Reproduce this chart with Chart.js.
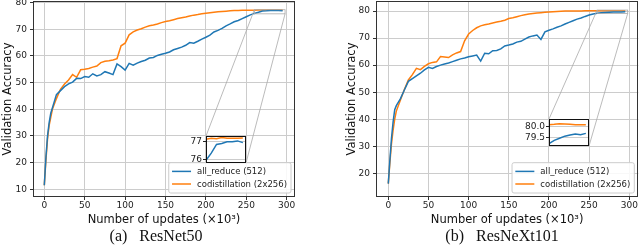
<!DOCTYPE html>
<html>
<head>
<meta charset="utf-8">
<script src="https://cdn.jsdelivr.net/npm/chart.js@4.4.0/dist/chart.umd.min.js"></script>
<style>
  body { margin: 0; background: #fff; width: 640px; height: 248px; position: relative; overflow: hidden; }
  canvas { position: absolute; }
  .cap { position: absolute; top: 227px; font: 16px/18px "Liberation Serif", serif; color: #111; white-space: nowrap; transform: translateX(-50%); }
  .cap span { margin-left: 12px; }
</style>
</head>
<body>
<canvas id="mainA" width="320" height="248" style="left:0;top:0"></canvas>
<canvas id="mainB" width="320" height="248" style="left:320px;top:0"></canvas>
<canvas id="insetA"></canvas>
<canvas id="insetB"></canvas>
<div class="cap" style="left:156px">(a)<span>ResNet50</span></div>
<div class="cap" style="left:502px">(b)<span>ResNeXt101</span></div>
<script>
// updates, in thousands
const updates = [
  0, 2, 4, 6, 8, 10, 15, 20, 25, 30,
  35, 40, 45, 50, 55, 60, 65, 70, 75, 80,
  85, 90, 95, 100, 105, 110, 115, 120, 125, 130,
  135, 140, 145, 150, 155, 160, 165, 170, 175, 180,
  185, 190, 195, 200, 205, 210, 215, 220, 225, 230,
  235, 240, 245, 250, 255, 260, 265, 270, 275, 280,
  285, 290, 295
];

// ResNet50
const r50AllReduce = [
  11.5, 22, 30, 35, 38.5, 40.5, 45.5, 47, 48.5, 49.5,
  50.2, 51.6, 51.5, 52.3, 52, 53.3, 52.5, 53, 54.1, 53.6,
  53, 57, 56, 54.7, 57.2, 56.5, 57.3, 57.9, 58.4, 59.2,
  59.4, 60.2, 60.6, 61, 61.5, 62.3, 62.8, 63.3, 64, 65,
  64.8, 65.5, 66.3, 67, 67.8, 69, 69.6, 70.3, 71.3, 72,
  72.8, 73.3, 74, 74.7, 75.4, 75.95, 76.35, 76.85, 76.9, 77.0,
  77.0, 77.05, 76.95
];
const r50Codist = [
  11.5, 21, 29, 34, 37, 40, 44, 47.5, 49.5, 51,
  53, 52, 54.8, 55, 55.3, 55.8, 56.2, 57.5, 58, 58.2,
  58.5, 59, 63.8, 64.8, 67.9, 69, 69.7, 70.2, 70.8, 71.3,
  71.6, 72, 72.5, 72.9, 73.2, 73.6, 74, 74.3, 74.6, 75,
  75.3, 75.5, 75.8, 76, 76.2, 76.4, 76.6, 76.7, 76.8, 76.9,
  77, 77.05, 77.1, 77.1, 77.12, 77.15, 77.2, 77.18, 77.25, 77.2,
  77.2, 77.2, 77.22
];

// ResNeXt101
const rx101AllReduce = [
  16.2, 25, 33, 39, 43.5, 45, 47.5, 50.8, 54, 55,
  56, 57, 58.2, 59.2, 58.8, 59.5, 60, 60.4, 60.8, 61.3,
  61.8, 62.3, 62.6, 63.1, 63.4, 63.7, 61.5, 64.4, 64.2, 65.3,
  65.4, 66, 67.1, 67.4, 67.8, 68.5, 68.8, 69.6, 70.4, 70.8,
  71.1, 69.5, 72.3, 72.9, 73.4, 74, 74.5, 75.2, 75.8, 76.4,
  77, 77.4, 78, 78.5, 78.9, 79.2, 79.35, 79.45, 79.55, 79.6,
  79.65, 79.62, 79.68
];
const rx101Codist = [
  16.2, 24, 31, 36, 40, 43, 47, 51, 54.5, 56.5,
  58.8, 58.3, 59.5, 60.5, 61, 61.2, 63.2, 63, 62.8, 63.8,
  64.5, 65, 69, 71.5, 72.8, 73.8, 74.5, 74.9, 75.2, 75.6,
  75.9, 76.2, 76.6, 77.2, 77.5, 77.9, 78.3, 78.6, 78.9, 79.1,
  79.3, 79.4, 79.5, 79.6, 79.7, 79.8, 79.9, 80, 80, 80.02,
  80.03, 80.04, 80.05, 80.05, 80.06, 80.08, 80.1, 80.13, 80.12, 80.1,
  80.08, 80.08, 80.08
];

const seriesLabels = ['all_reduce (512)', 'codistillation (2x256)'];
const seriesColors = ['#1f77b4', '#ff7f0e'];
const xTicks = [0, 50, 100, 150, 200, 250, 300];
const yTicksA = [10, 20, 30, 40, 50, 60, 70, 80];
const yTicksB = [20, 30, 40, 50, 60, 70, 80];
const insetTicksA = [76, 77];
const insetTicksB = [79.5, 80.0];

const FONT = '"DejaVu Sans", sans-serif';

const pts = ys => updates.map((x, i) => ({ x: x, y: ys[i] }));

function insetBox(chart, place) {
  const sx = chart.scales.x, sy = chart.scales.y;
  return {
    L: Math.round(sx.getPixelForValue(place[0])),
    R: Math.round(sx.getPixelForValue(place[1])),
    T: Math.round(sy.getPixelForValue(place[3])),
    B: Math.round(sy.getPixelForValue(place[2]))
  };
}

// frame, zoom rectangle + connector lines
const decor = {
  id: 'decor',
  afterDatasetsDraw(chart, args, o) {
    const { ctx, chartArea: a } = chart;
    const sx = chart.scales.x, sy = chart.scales.y;
    ctx.save();
    if (o.place) {
      const b = insetBox(chart, o.place);
      const x1 = sx.getPixelForValue(o.view[0]), x2 = sx.getPixelForValue(o.view[1]);
      const y1 = sy.getPixelForValue(o.view[2]), y2 = sy.getPixelForValue(o.view[3]);
      ctx.strokeStyle = '#a9a9a9';
      ctx.lineWidth = 0.8;
      ctx.strokeRect(x1, y2, x2 - x1, y1 - y2);
      ctx.beginPath();
      ctx.moveTo(x1, y2); ctx.lineTo(b.L, b.T);
      ctx.moveTo(x2, y1); ctx.lineTo(b.R, b.B);
      ctx.stroke();
    }
    ctx.strokeStyle = o.frame || '#333';
    ctx.lineWidth = 1;
    ctx.strokeRect(Math.round(a.left) + 0.5, Math.round(a.top) + 0.5, Math.round(a.width) - 1, Math.round(a.height) - 1);
    ctx.restore();
  }
};

// legend in lower right corner of the plot
const cornerLegend = {
  id: 'cornerLegend',
  afterDraw(chart, args, o) {
    if (!o.show) return;
    const { ctx, chartArea: a } = chart;
    const sets = chart.data.datasets;
    ctx.save();
    ctx.font = '8.5px ' + FONT;
    const tw = Math.max(...sets.map(d => ctx.measureText(d.label).width));
    const w = 3.3 + 19 + 6 + tw + 4, h = 30.3;
    const x0 = a.right - 4 - w, y0 = a.bottom - 4 - h;
    ctx.fillStyle = 'rgba(255,255,255,0.85)';
    ctx.strokeStyle = '#cccccc';
    ctx.lineWidth = 1;
    ctx.beginPath();
    ctx.roundRect(x0, y0, w, h, 2);
    ctx.fill();
    ctx.stroke();
    sets.forEach((d, i) => {
      const y = y0 + 8.7 + i * 12.6;
      ctx.strokeStyle = d.borderColor;
      ctx.lineWidth = 1.5;
      ctx.beginPath();
      ctx.moveTo(x0 + 3.3, y); ctx.lineTo(x0 + 22.3, y);
      ctx.stroke();
      ctx.fillStyle = '#222';
      ctx.textBaseline = 'middle';
      ctx.fillText(d.label, x0 + 28.3, y + 0.5);
    });
    ctx.restore();
  }
};

const insetBg = {
  id: 'insetBg',
  beforeDraw(chart) {
    const { ctx, chartArea: a } = chart;
    ctx.save();
    ctx.fillStyle = '#fff';
    ctx.fillRect(a.left, a.top, a.width, a.height);
    ctx.restore();
  }
};

function lineSets(blue, orange) {
  return [blue, orange].map((ys, i) => ({
    label: seriesLabels[i],
    data: pts(ys),
    borderColor: seriesColors[i],
    borderWidth: 1.5,
    pointRadius: 0,
    tension: 0
  }));
}

function buildMain(id, blue, orange, cfg) {
  return new Chart(document.getElementById(id), {
    type: 'line',
    data: { datasets: lineSets(blue, orange) },
    plugins: [decor, cornerLegend],
    options: {
      responsive: false,
      animation: false,
      events: [],
      layout: { padding: { left: cfg.padLeft, right: cfg.padRight, top: 1, bottom: 20 } },
      plugins: {
        legend: { display: false },
        tooltip: { enabled: false },
        decor: { place: cfg.place, view: cfg.view },
        cornerLegend: { show: true }
      },
      scales: {
        x: {
          type: 'linear',
          min: cfg.xRange[0], max: cfg.xRange[1],
          afterBuildTicks: s => { s.ticks = xTicks.map(v => ({ value: v })); },
          afterFit: s => { s.height = 31; s.paddingLeft = 0; s.paddingRight = 0; },
          grid: { color: '#cccccc', lineWidth: 1, tickLength: 3, tickColor: '#333' },
          border: { display: false },
          ticks: { font: { family: FONT, size: 9 }, color: '#222', padding: 0, maxRotation: 0, autoSkip: false, callback: v => v },
          title: { display: true, text: 'Number of updates (×10³)', font: { family: FONT, size: 11.5 }, color: '#111', padding: { top: 0, bottom: 1 } }
        },
        y: {
          min: cfg.yRange[0], max: cfg.yRange[1],
          afterBuildTicks: s => { s.ticks = cfg.yTicks.map(v => ({ value: v })); },
          afterFit: s => { s.width = cfg.axisW; s.paddingTop = 0; s.paddingBottom = 0; },
          grid: { color: '#cccccc', lineWidth: 1, tickLength: 3, tickColor: '#333' },
          border: { display: false },
          ticks: { font: { family: FONT, size: 9 }, color: '#222', padding: 3, autoSkip: false, callback: v => v },
          title: { display: true, text: 'Validation Accuracy', font: { family: FONT, size: 11.5 }, color: '#111', padding: { top: 1, bottom: 0 } }
        }
      }
    }
  });
}

function buildInset(id, main, blue, orange, cfg) {
  const b = insetBox(main, cfg.place);
  const axisW = 30;
  const c = document.getElementById(id);
  c.width = b.R - b.L + axisW + 2;
  c.height = b.B - b.T + 4;
  c.style.left = (main.canvas.offsetLeft + b.L - axisW) + 'px';
  c.style.top = (b.T - 2) + 'px';
  return new Chart(c, {
    type: 'line',
    data: { datasets: lineSets(blue, orange) },
    plugins: [insetBg, decor],
    options: {
      responsive: false,
      animation: false,
      events: [],
      layout: { padding: { left: 0, right: 2, top: 2, bottom: 2 } },
      plugins: {
        legend: { display: false },
        tooltip: { enabled: false },
        decor: { frame: '#111' }
      },
      scales: {
        x: { type: 'linear', display: false, min: cfg.view[0], max: cfg.view[1] },
        y: {
          min: cfg.view[2], max: cfg.view[3],
          afterBuildTicks: s => { s.ticks = cfg.insetTicks.map(v => ({ value: v })); },
          afterFit: s => { s.width = axisW; s.paddingTop = 0; s.paddingBottom = 0; },
          grid: { color: '#cccccc', lineWidth: 1, tickLength: 3, tickColor: '#222' },
          border: { display: false },
          ticks: { font: { family: FONT, size: 9 }, color: '#222', padding: 1, autoSkip: false, callback: v => v.toFixed(cfg.dec) }
        }
      }
    }
  });
}

const cfgA = {
  padLeft: 0, padRight: 25, axisW: 33,
  xRange: [-14, 310.3], yRange: [7.1, 80.6], yTicks: yTicksA,
  place: [200, 250, 20, 30], view: [260, 298, 75.79, 77.33],
  insetTicks: insetTicksA, dec: 0
};
const cfgB = {
  padLeft: 24, padRight: 1.7, axisW: 32,
  xRange: [-15.3, 311.2], yRange: [11.24, 83.7], yTicks: yTicksB,
  place: [200, 250, 30, 40], view: [260, 298, 79.09, 80.35],
  insetTicks: insetTicksB, dec: 1
};

const mainA = buildMain('mainA', r50AllReduce, r50Codist, cfgA);
const mainB = buildMain('mainB', rx101AllReduce, rx101Codist, cfgB);
buildInset('insetA', mainA, r50AllReduce, r50Codist, cfgA);
buildInset('insetB', mainB, rx101AllReduce, rx101Codist, cfgB);
</script>
</body>
</html>
